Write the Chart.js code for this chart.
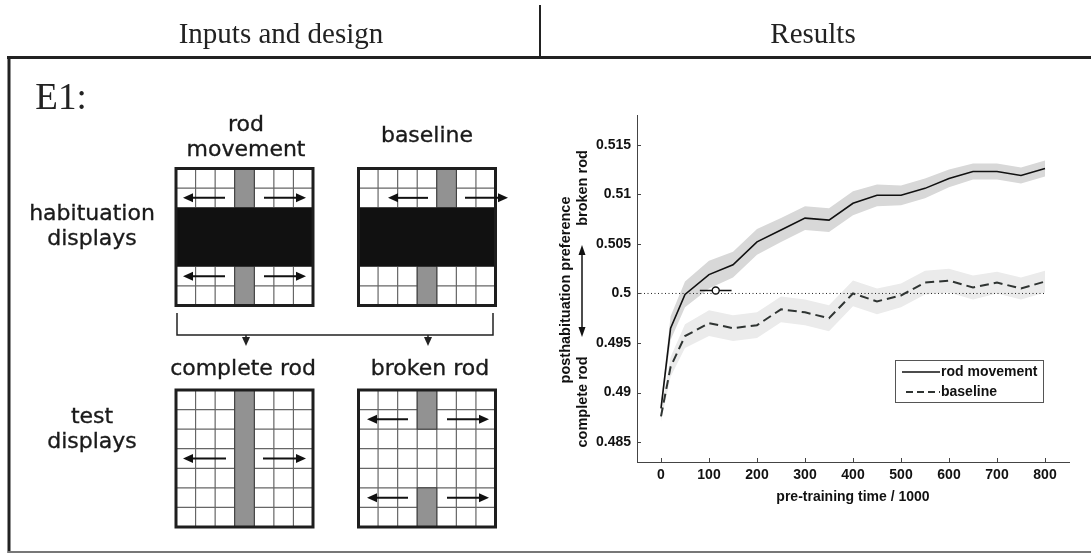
<!DOCTYPE html>
<html>
<head>
<meta charset="utf-8">
<title>E1: rod movement</title>
<script src="https://cdn.jsdelivr.net/npm/chart.js@4.4.0/dist/chart.umd.min.js"></script>
<style>
  body { margin: 0; background: #fff; width: 1091px; height: 556px; position: relative; overflow: hidden; }
  #diagram { position: absolute; left: 0; top: 0; }
  #wrap { position: absolute; left: 540px; top: 60px; width: 540px; height: 490px; }
  .head { position: absolute; font-family: "Liberation Serif", serif; font-size: 29px; color: #222;
          transform: translate(-50%, -50%); white-space: nowrap; }
  .lbl { position: absolute; font-family: "DejaVu Sans", sans-serif; font-size: 22px; color: #1a1a1a;
         -webkit-text-stroke: 0.35px #1a1a1a;
         line-height: 25px; text-align: center; transform: translate(-50%, -50%); white-space: nowrap; }
</style>
</head>
<body>
<canvas id="diagram" width="1091" height="556"></canvas>

<div class="head" style="left:281px;top:33px">Inputs and design</div>
<div class="head" style="left:813px;top:33px">Results</div>
<div class="head" style="left:61px;top:96px;font-size:37px">E1:</div>

<div class="lbl" style="left:246px;top:136px">rod<br>movement</div>
<div class="lbl" style="left:427px;top:134px">baseline</div>
<div class="lbl" style="left:92px;top:225px">habituation<br>displays</div>
<div class="lbl" style="left:243px;top:367px">complete rod</div>
<div class="lbl" style="left:430px;top:367px">broken rod</div>
<div class="lbl" style="left:92px;top:428px">test<br>displays</div>

<div id="wrap"><canvas id="results" width="540" height="490"></canvas></div>

<script>
// pre-training time (x) and mean posthabituation preference per condition
const timeX = [0, 20, 50, 100, 150, 200, 250, 300, 350, 400, 450, 500, 550, 600, 650, 700, 750, 800];
const rodMove = [0.4884, 0.4965, 0.4999, 0.5019, 0.5029, 0.5052, 0.5064, 0.5076, 0.5074, 0.5091,
                 0.5099, 0.5099, 0.5106, 0.5116, 0.5123, 0.5123, 0.5119, 0.5126];
const baseline = [0.4876, 0.4926, 0.4957, 0.4970, 0.4965, 0.4968, 0.4984, 0.4981, 0.4975, 0.5000,
                  0.4992, 0.4998, 0.5011, 0.5013, 0.5006, 0.5011, 0.5005, 0.5012];
// half width of the shaded bands
const rodErr = [0.0005, 0.0012, 0.0013, 0.0014, 0.0013, 0.0013, 0.0012, 0.0012, 0.0012, 0.0012,
                0.0011, 0.0010, 0.0010, 0.0009, 0.0008, 0.0008, 0.0008, 0.0008];
const baseErr = [0.0005, 0.0010, 0.0012, 0.0013, 0.0013, 0.0013, 0.0013, 0.0013, 0.0013, 0.0013,
                 0.0013, 0.0012, 0.0012, 0.0012, 0.0012, 0.0011, 0.0011, 0.0011];
// crossing point marker with its horizontal error bar
const crossX = [114];
const crossY = [0.5003];
const crossRange = [81, 147];
const chanceLevel = [0.5];

const xTicks = [0, 100, 200, 300, 400, 500, 600, 700, 800];
const yTicks = [0.485, 0.49, 0.495, 0.5, 0.505, 0.51, 0.515];

// ---------- left side: habituation / test displays ----------
const dc = document.getElementById('diagram').getContext('2d');
const CELL = 137 / 7;

function arrow(ctx, x1, y, x2) {
  const dir = x2 > x1 ? 1 : -1;
  ctx.beginPath();
  ctx.moveTo(x1, y);
  ctx.lineTo(x2 - dir * 8, y);
  ctx.lineWidth = 2;
  ctx.stroke();
  ctx.beginPath();
  ctx.moveTo(x2, y);
  ctx.lineTo(x2 - dir * 10, y - 4.5);
  ctx.lineTo(x2 - dir * 10, y + 4.5);
  ctx.closePath();
  ctx.fill();
}

function downArrow(ctx, x, y1, y2) {
  ctx.beginPath();
  ctx.moveTo(x, y1);
  ctx.lineTo(x, y2 - 6);
  ctx.stroke();
  ctx.beginPath();
  ctx.moveTo(x, y2);
  ctx.lineTo(x - 4, y2 - 9);
  ctx.lineTo(x + 4, y2 - 9);
  ctx.closePath();
  ctx.fill();
}

// rods: [col, firstRow, lastRow], arrows: [row, leftFrom, leftTo, rightFrom, rightTo]
function drawDisplay(ctx, bx, by, rods, occluder, arrows) {
  const S = CELL * 7;
  ctx.fillStyle = '#fff';
  ctx.fillRect(bx, by, S, S);
  ctx.strokeStyle = '#666';
  ctx.lineWidth = 1.2;
  for (let i = 1; i < 7; i++) {
    ctx.beginPath(); ctx.moveTo(bx + i * CELL, by); ctx.lineTo(bx + i * CELL, by + S); ctx.stroke();
    ctx.beginPath(); ctx.moveTo(bx, by + i * CELL); ctx.lineTo(bx + S, by + i * CELL); ctx.stroke();
  }
  rods.forEach(([c, r0, r1]) => {
    ctx.fillStyle = '#929292';
    ctx.fillRect(bx + c * CELL, by + r0 * CELL, CELL, (r1 - r0 + 1) * CELL);
    ctx.strokeStyle = '#3a3a3a';
    ctx.lineWidth = 1;
    ctx.strokeRect(bx + c * CELL, by + r0 * CELL, CELL, (r1 - r0 + 1) * CELL);
  });
  if (occluder) {
    ctx.fillStyle = '#111';
    ctx.fillRect(bx, by + 2 * CELL, S, 3 * CELL);
  }
  ctx.strokeStyle = '#1e1e1e';
  ctx.lineWidth = 3;
  ctx.strokeRect(bx, by, S, S);
  ctx.strokeStyle = '#111';
  ctx.fillStyle = '#111';
  arrows.forEach(([r, lf, lt, rf, rt]) => {
    const y = by + (r + 0.5) * CELL;
    arrow(ctx, lf, y, lt);
    arrow(ctx, rf, y, rt);
  });
}

// header divider and panel frame
dc.strokeStyle = '#222';
dc.lineWidth = 2;
dc.beginPath(); dc.moveTo(540, 5); dc.lineTo(540, 57); dc.stroke();
dc.lineWidth = 3;
dc.beginPath(); dc.moveTo(7, 57.5); dc.lineTo(1091, 57.5); dc.stroke();
dc.beginPath(); dc.moveTo(9, 57); dc.lineTo(9, 553); dc.stroke();
dc.strokeStyle = '#777';
dc.lineWidth = 2;
dc.beginPath(); dc.moveTo(8, 552); dc.lineTo(1091, 552); dc.stroke();

drawDisplay(dc, 176, 168.5, [[3, 0, 1], [3, 5, 6]], true,
  [[1, 225, 183, 264, 306], [5, 225, 183, 264, 306]]);
drawDisplay(dc, 358.5, 168.5, [[4, 0, 1], [3, 5, 6]], true,
  [[1, 428, 388, 465, 508]]);
drawDisplay(dc, 176, 390, [[3, 0, 6]], false,
  [[3, 226, 183, 263, 306]]);
drawDisplay(dc, 358.5, 390, [[3, 0, 1], [3, 5, 6]], false,
  [[1, 408, 367, 447, 489], [5, 408, 367, 447, 489]]);

// bracket from habituation to test
dc.strokeStyle = '#222';
dc.fillStyle = '#222';
dc.lineWidth = 1.5;
dc.beginPath();
dc.moveTo(177, 313); dc.lineTo(177, 335); dc.lineTo(493, 335); dc.lineTo(493, 313);
dc.stroke();
downArrow(dc, 246, 335, 346);
downArrow(dc, 428, 335, 346);

// ---------- right side: results chart ----------
const pts = (xs, ys) => xs.map((x, i) => ({ x: x, y: ys[i] }));
const rodUpper = rodMove.map((v, i) => v + rodErr[i]);
const rodLower = rodMove.map((v, i) => v - rodErr[i]);
const baseUpper = baseline.map((v, i) => v + baseErr[i]);
const baseLower = baseline.map((v, i) => v - baseErr[i]);

const FONT = '"Liberation Sans", Arial, sans-serif';

const decor = {
  id: 'decor',
  afterDraw(chart) {
    const { ctx, chartArea: area, scales: { x, y } } = chart;
    ctx.save();
    // MATLAB style ticks pointing into the plot
    ctx.strokeStyle = '#444';
    ctx.lineWidth = 1;
    xTicks.forEach(v => {
      const px = Math.round(x.getPixelForValue(v)) + 0.5;
      ctx.beginPath(); ctx.moveTo(px, area.bottom); ctx.lineTo(px, area.bottom - 4); ctx.stroke();
    });
    yTicks.forEach(v => {
      const py = Math.round(y.getPixelForValue(v)) + 0.5;
      ctx.beginPath(); ctx.moveTo(area.left, py); ctx.lineTo(area.left + 4, py); ctx.stroke();
    });

    ctx.fillStyle = '#111';
    ctx.font = 'bold 14px ' + FONT;
    ctx.textAlign = 'center';
    ctx.textBaseline = 'middle';
    ctx.fillText('pre-training time / 1000', (area.left + area.right) / 2, area.bottom + 35);

    // y label with the direction of preference
    const lbl = (text, cx, cy) => {
      ctx.save();
      ctx.translate(cx, cy);
      ctx.rotate(-Math.PI / 2);
      ctx.fillText(text, 0, 0);
      ctx.restore();
    };
    ctx.font = 'bold 14.5px ' + FONT;
    lbl('posthabituation preference', 26, 230);
    lbl('broken rod', 43, 128);
    lbl('complete rod', 43, 342);
    ctx.strokeStyle = '#111';
    ctx.lineWidth = 1.5;
    ctx.beginPath(); ctx.moveTo(42, 190); ctx.lineTo(42, 272); ctx.stroke();
    [[185, 1], [277, -1]].forEach(([ty, d]) => {
      ctx.beginPath();
      ctx.moveTo(42, ty);
      ctx.lineTo(38.5, ty + d * 10);
      ctx.lineTo(45.5, ty + d * 10);
      ctx.closePath();
      ctx.fill();
    });

    // legend
    ctx.font = 'bold 14px ' + FONT;
    ctx.fillStyle = '#fff';
    ctx.fillRect(355, 300, 148, 42);
    ctx.strokeStyle = '#555';
    ctx.lineWidth = 1;
    ctx.strokeRect(355.5, 300.5, 148, 42);
    ctx.strokeStyle = '#111';
    ctx.lineWidth = 1.5;
    ctx.beginPath(); ctx.moveTo(362, 312); ctx.lineTo(400, 312); ctx.stroke();
    ctx.strokeStyle = '#2f3432';
    ctx.lineWidth = 2;
    ctx.setLineDash([7, 4]);
    ctx.beginPath(); ctx.moveTo(366, 332); ctx.lineTo(400, 332); ctx.stroke();
    ctx.setLineDash([]);
    ctx.fillStyle = '#111';
    ctx.textAlign = 'left';
    ctx.fillText('rod movement', 401, 312);
    ctx.fillText('baseline', 401, 332);
    ctx.restore();
  }
};

new Chart(document.getElementById('results'), {
  type: 'line',
  data: {
    datasets: [
      { data: pts(timeX, baseUpper), fill: '+1', backgroundColor: '#ebebeb', borderWidth: 0, pointRadius: 0, order: 30 },
      { data: pts(timeX, baseLower), fill: false, borderWidth: 0, pointRadius: 0, order: 30 },
      { data: pts(timeX, rodUpper), fill: '+1', backgroundColor: '#d8d8d8', borderWidth: 0, pointRadius: 0, order: 20 },
      { data: pts(timeX, rodLower), fill: false, borderWidth: 0, pointRadius: 0, order: 20 },
      { data: [{ x: -50, y: chanceLevel[0] }, { x: 800, y: chanceLevel[0] }], borderColor: '#222',
        borderWidth: 1, borderDash: [1, 2.5], pointRadius: 0, fill: false, order: 10 },
      { label: 'baseline', data: pts(timeX, baseline), borderColor: '#2f3432', borderWidth: 2,
        borderDash: [9, 5], pointRadius: 0, fill: false, order: 5 },
      { label: 'rod movement', data: pts(timeX, rodMove), borderColor: '#111', borderWidth: 1.6,
        pointRadius: 0, fill: false, order: 4 },
      { data: crossRange.map(v => ({ x: v, y: crossY[0] })), borderColor: '#111', borderWidth: 1.6,
        pointRadius: 0, fill: false, order: 1 },
      { data: pts(crossX, crossY), showLine: false, pointRadius: 3.5, pointBackgroundColor: '#fff',
        pointBorderColor: '#111', pointBorderWidth: 1.4, order: 0 }
    ]
  },
  options: {
    responsive: false,
    animation: false,
    devicePixelRatio: 1,
    layout: { padding: { left: 0, right: 11, top: 55, bottom: 0 } },
    plugins: { legend: { display: false }, tooltip: { enabled: false } },
    scales: {
      x: {
        type: 'linear', min: -50, max: 850,
        afterBuildTicks: s => { s.ticks = xTicks.map(v => ({ value: v })); },
        afterFit: s => { s.height = 88; },
        grid: { display: true, drawOnChartArea: false, drawTicks: false },
        border: { display: true, color: '#444', width: 1 },
        ticks: { color: '#111', padding: 5, maxRotation: 0, font: { family: FONT, size: 14, weight: 'bold' } }
      },
      y: {
        type: 'linear', min: 0.483, max: 0.518,
        afterBuildTicks: s => { s.ticks = yTicks.map(v => ({ value: v })); },
        afterFit: s => { s.width = 97; },
        grid: { display: true, drawOnChartArea: false, drawTicks: false },
        border: { display: true, color: '#444', width: 1 },
        ticks: { color: '#111', padding: 6, font: { family: FONT, size: 14, weight: 'bold' },
                 callback: v => String(Number(v.toFixed(3))) }
      }
    }
  },
  plugins: [decor]
});
</script>
</body>
</html>
